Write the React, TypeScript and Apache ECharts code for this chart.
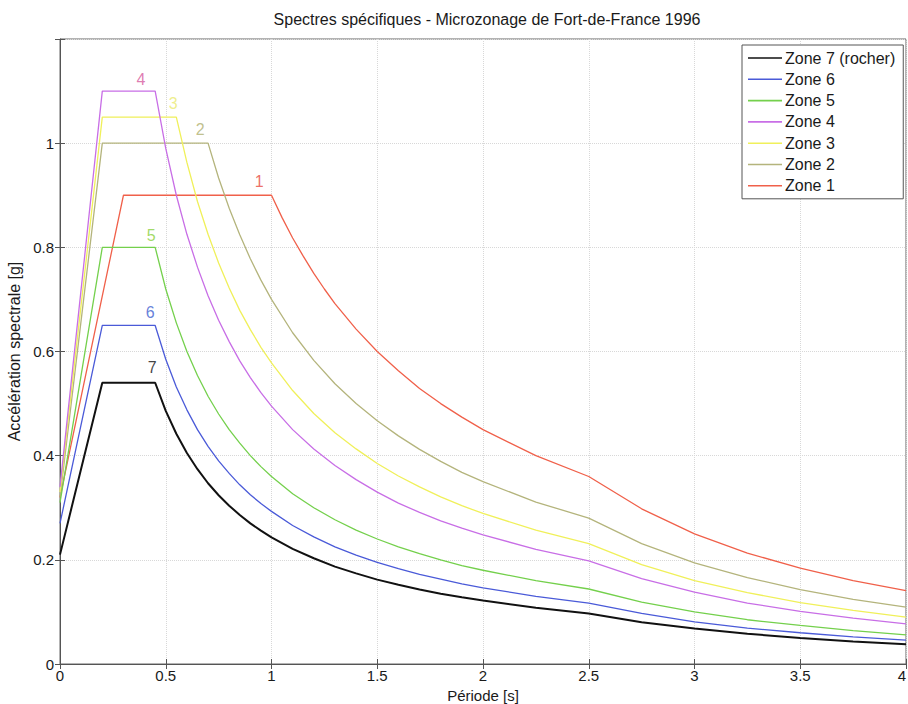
import React, { useEffect, useRef } from "react";
import * as echarts from "echarts";

const FONT = "'Liberation Sans', Arial, Helvetica, sans-serif";

const titleText = "Spectres spécifiques - Microzonage de Fort-de-France 1996";
const xAxisTitle = "Période [s]";
const yAxisTitle = "Accélération spectrale [g]";

const zoneNames = ["Zone 7 (rocher)", "Zone 6", "Zone 5", "Zone 4", "Zone 3", "Zone 2", "Zone 1"];
const zoneColors = ["#111111", "#4a5ad8", "#74d04c", "#c86ee6", "#f0f05a", "#b4b47c", "#f0604a"];
const zoneWidths = [2, 1.3, 1.3, 1.3, 1.3, 1.3, 1.3];

// [period (s), spectral acceleration (g)]
const zone7 = [[0,0.21],[0.2,0.54],[0.45,0.54],[0.5,0.486],[0.55,0.442],[0.6,0.405],[0.65,0.374],[0.7,0.347],[0.75,0.324],[0.8,0.304],[0.85,0.286],[0.9,0.27],[0.95,0.256],[1,0.243],[1.1,0.221],[1.2,0.203],[1.3,0.187],[1.4,0.174],[1.5,0.162],[1.6,0.152],[1.7,0.143],[1.8,0.135],[1.9,0.128],[2,0.122],[2.25,0.108],[2.5,0.097],[2.75,0.08],[3,0.068],[3.25,0.058],[3.5,0.05],[3.75,0.043],[4,0.038]];
const zone6 = [[0,0.27],[0.2,0.65],[0.45,0.65],[0.5,0.585],[0.55,0.532],[0.6,0.488],[0.65,0.45],[0.7,0.418],[0.75,0.39],[0.8,0.366],[0.85,0.344],[0.9,0.325],[0.95,0.308],[1,0.293],[1.1,0.266],[1.2,0.244],[1.3,0.225],[1.4,0.209],[1.5,0.195],[1.6,0.183],[1.7,0.172],[1.8,0.163],[1.9,0.154],[2,0.146],[2.25,0.13],[2.5,0.117],[2.75,0.097],[3,0.081],[3.25,0.069],[3.5,0.06],[3.75,0.052],[4,0.046]];
const zone5 = [[0,0.31],[0.2,0.8],[0.45,0.8],[0.5,0.72],[0.55,0.655],[0.6,0.6],[0.65,0.554],[0.7,0.514],[0.75,0.48],[0.8,0.45],[0.85,0.424],[0.9,0.4],[0.95,0.379],[1,0.36],[1.1,0.327],[1.2,0.3],[1.3,0.277],[1.4,0.257],[1.5,0.24],[1.6,0.225],[1.7,0.212],[1.8,0.2],[1.9,0.189],[2,0.18],[2.25,0.16],[2.5,0.144],[2.75,0.119],[3,0.1],[3.25,0.085],[3.5,0.074],[3.75,0.064],[4,0.056]];
const zone4 = [[0,0.34],[0.2,1.1],[0.45,1.1],[0.5,0.99],[0.55,0.9],[0.6,0.825],[0.65,0.762],[0.7,0.707],[0.75,0.66],[0.8,0.619],[0.85,0.582],[0.9,0.55],[0.95,0.521],[1,0.495],[1.1,0.45],[1.2,0.413],[1.3,0.381],[1.4,0.354],[1.5,0.33],[1.6,0.309],[1.7,0.291],[1.8,0.275],[1.9,0.261],[2,0.248],[2.25,0.22],[2.5,0.198],[2.75,0.164],[3,0.138],[3.25,0.117],[3.5,0.101],[3.75,0.088],[4,0.077]];
const zone3 = [[0,0.33],[0.2,1.05],[0.55,1.05],[0.6,0.963],[0.65,0.888],[0.7,0.825],[0.75,0.77],[0.8,0.722],[0.85,0.679],[0.9,0.642],[0.95,0.608],[1,0.578],[1.1,0.525],[1.2,0.481],[1.3,0.444],[1.4,0.413],[1.5,0.385],[1.6,0.361],[1.7,0.34],[1.8,0.321],[1.9,0.304],[2,0.289],[2.25,0.257],[2.5,0.231],[2.75,0.191],[3,0.16],[3.25,0.137],[3.5,0.118],[3.75,0.103],[4,0.09]];
const zone2 = [[0,0.32],[0.2,1],[0.7,1],[0.75,0.933],[0.8,0.875],[0.85,0.824],[0.9,0.778],[0.95,0.737],[1,0.7],[1.1,0.636],[1.2,0.583],[1.3,0.538],[1.4,0.5],[1.5,0.467],[1.6,0.438],[1.7,0.412],[1.8,0.389],[1.9,0.368],[2,0.35],[2.25,0.311],[2.5,0.28],[2.75,0.231],[3,0.194],[3.25,0.166],[3.5,0.143],[3.75,0.124],[4,0.109]];
const zone1 = [[0,0.32],[0.3,0.9],[1,0.9],[1.05,0.857],[1.1,0.818],[1.15,0.783],[1.2,0.75],[1.25,0.72],[1.3,0.692],[1.4,0.643],[1.5,0.6],[1.6,0.563],[1.7,0.529],[1.8,0.5],[1.9,0.474],[2,0.45],[2.25,0.4],[2.5,0.36],[2.75,0.298],[3,0.25],[3.25,0.213],[3.5,0.184],[3.75,0.16],[4,0.141]];
const zoneData = [zone7, zone6, zone5, zone4, zone3, zone2, zone1];

// curve number annotations
const curveLabels = ["4", "3", "2", "1", "5", "6", "7"];
const curveLabelPos = [[0.383, 1.123], [0.535, 1.077], [0.663, 1.027], [0.942, 0.927], [0.431, 0.823], [0.426, 0.675], [0.436, 0.569]];
const curveLabelColors = ["#d65a9e", "#eaea70", "#b0b070", "#e84a40", "#8ad040", "#4060d0", "#111111"];

const xTicks = { min: 0, max: 4, interval: 0.5 };
const yTicks = { min: 0, max: 1.2, interval: 0.2 };

export default function App() {
  const ref = useRef<HTMLDivElement>(null);
  useEffect(() => {
    if (!ref.current) return;
    const chart = echarts.init(ref.current, undefined, { renderer: "svg" });
    const lineSeries = zoneNames.map((name, i) => ({
      name,
      type: "line",
      data: zoneData[i],
      symbol: "none",
      showSymbol: false,
      color: zoneColors[i],
      lineStyle: { color: zoneColors[i], width: zoneWidths[i] },
      z: 10 - i,
      silent: true,
    }));
    const labelSeries = {
      name: "_labels",
      type: "scatter",
      symbolSize: 1,
      itemStyle: { color: "transparent" },
      silent: true,
      z: 20,
      data: curveLabels.map((t, i) => ({
        name: t,
        value: curveLabelPos[i],
        label: {
          show: true,
          position: "inside",
          formatter: t,
          color: curveLabelColors[i],
          fontSize: 16,
          fontFamily: FONT,
        },
      })),
    };
    chart.setOption({
      animation: false,
      backgroundColor: "#ffffff",
      title: {
        text: titleText,
        left: 482,
        textAlign: "center",
        top: 6,
        textStyle: { fontSize: 16, fontWeight: "normal", color: "#1a1a1a", fontFamily: FONT },
      },
      grid: {
        left: 60,
        right: 2,
        top: 39,
        bottom: 40,
        containLabel: false,
        outerBoundsMode: "none",
        show: true,
        borderColor: "#666666",
        borderWidth: 1,
        backgroundColor: "#ffffff",
      },
      legend: {
        data: zoneNames,
        orient: "vertical",
        left: 742,
        top: 45,
        padding: [5, 8, 5, 6],
        icon: "rect",
        itemWidth: 34,
        itemHeight: 1.6,
        itemGap: 5.3,
        backgroundColor: "#ffffff",
        borderColor: "#555555",
        borderWidth: 1,
        borderRadius: 0,
        textStyle: { fontSize: 16, lineHeight: 16, color: "#1a1a1a", fontFamily: FONT, padding: [0, 0, 0, -2] },
        selectedMode: false,
      },
      xAxis: [
        {
          type: "value",
          ...xTicks,
          name: xAxisTitle,
          nameLocation: "middle",
          nameGap: 21,
          nameTextStyle: { fontSize: 15, color: "#1a1a1a", fontFamily: FONT },
          axisLine: { show: true, lineStyle: { color: "#555555" } },
          axisTick: { show: true, inside: true, length: 5, lineStyle: { color: "#555555" } },
          axisLabel: { fontSize: 15, color: "#1a1a1a", margin: 4, fontFamily: FONT, alignMaxLabel: "right" },
          splitLine: { show: true, lineStyle: { color: "#d8d8d8", type: "dotted", width: 1 } },
        },
        {
          type: "value",
          ...xTicks,
          position: "top",
          axisLine: { show: false },
          axisTick: { show: true, inside: true, length: 5, lineStyle: { color: "#555555" } },
          axisLabel: { show: false },
          splitLine: { show: false },
        },
      ],
      yAxis: [
        {
          type: "value",
          ...yTicks,
          name: yAxisTitle,
          nameLocation: "middle",
          nameGap: 33,
          nameTextStyle: { fontSize: 16, color: "#1a1a1a", fontFamily: FONT },
          axisLine: { show: true, lineStyle: { color: "#555555" } },
          axisTick: { show: true, inside: true, length: 5, lineStyle: { color: "#555555" } },
          axisLabel: {
            fontSize: 15,
            color: "#1a1a1a",
            margin: 6,
            fontFamily: FONT,
            formatter: (v: number) => (v > 1.1 ? "" : String(Math.round(v * 10) / 10)),
          },
          splitLine: { show: true, lineStyle: { color: "#d8d8d8", type: "dotted", width: 1 } },
        },
        {
          type: "value",
          ...yTicks,
          position: "right",
          axisLine: { show: false },
          axisTick: { show: true, inside: true, length: 5, lineStyle: { color: "#555555" } },
          axisLabel: { show: false },
          splitLine: { show: false },
        },
      ],
      series: [...lineSeries, labelSeries],
    });
    return () => chart.dispose();
  }, []);
  return (
    <div
      ref={ref}
      style={{ position: "fixed", left: 0, top: 0, width: 908, height: 704, background: "#fff" }}
    />
  );
}
